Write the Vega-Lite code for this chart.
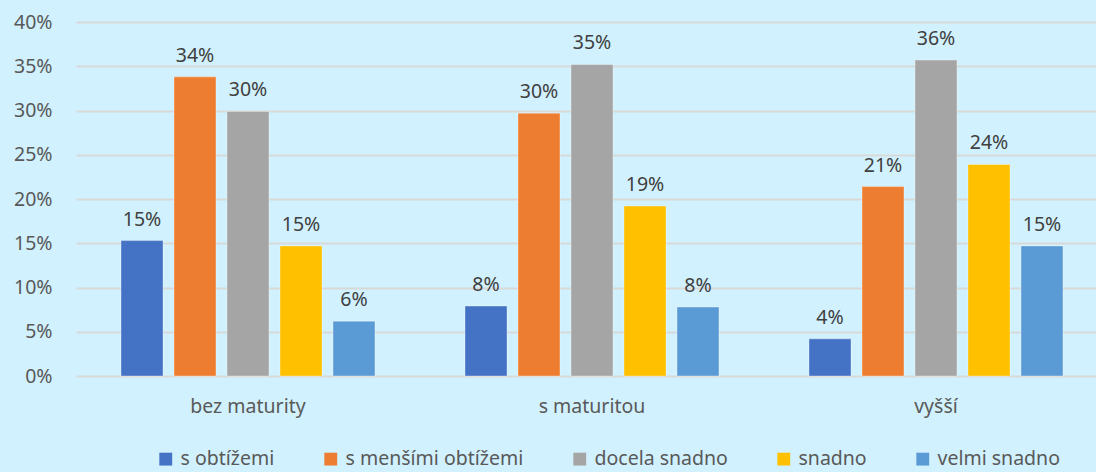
{
  "$schema": "https://vega.github.io/schema/vega-lite/v6.json",
  "width": 1020,
  "height": 354,
  "padding": {"left": 76, "top": 22, "right": 0, "bottom": 96},
  "autosize": {"type": "none"},
  "background": "#D1F1FE",
  "config": {
    "view": {"stroke": null},
    "font": "Noto Sans",
    "axis": {"labelFont": "Noto Sans", "labelFontSize": 19.5, "labelColor": "#595959"},
    "legend": {"labelFont": "Noto Sans", "labelFontSize": 19.5, "labelColor": "#595959", "labelLimit": 400}
  },
  "data": {
    "values": [
      {"skupina": "bez maturity", "hodnoceni": "s obtížemi", "podil": 0.153},
      {"skupina": "bez maturity", "hodnoceni": "s menšími obtížemi", "podil": 0.338},
      {"skupina": "bez maturity", "hodnoceni": "docela snadno", "podil": 0.299},
      {"skupina": "bez maturity", "hodnoceni": "snadno", "podil": 0.147},
      {"skupina": "bez maturity", "hodnoceni": "velmi snadno", "podil": 0.062},
      {"skupina": "s maturitou", "hodnoceni": "s obtížemi", "podil": 0.079},
      {"skupina": "s maturitou", "hodnoceni": "s menšími obtížemi", "podil": 0.297},
      {"skupina": "s maturitou", "hodnoceni": "docela snadno", "podil": 0.352},
      {"skupina": "s maturitou", "hodnoceni": "snadno", "podil": 0.192},
      {"skupina": "s maturitou", "hodnoceni": "velmi snadno", "podil": 0.078},
      {"skupina": "vyšší", "hodnoceni": "s obtížemi", "podil": 0.042},
      {"skupina": "vyšší", "hodnoceni": "s menšími obtížemi", "podil": 0.214},
      {"skupina": "vyšší", "hodnoceni": "docela snadno", "podil": 0.357},
      {"skupina": "vyšší", "hodnoceni": "snadno", "podil": 0.239},
      {"skupina": "vyšší", "hodnoceni": "velmi snadno", "podil": 0.147}
    ]
  },
  "encoding": {
    "x": {
      "field": "skupina", "type": "nominal",
      "sort": ["bez maturity", "s maturitou", "vyšší"],
      "scale": {"range": [0, 1032], "paddingInner": 0, "paddingOuter": 0},
      "axis": {"title": null, "labelAngle": 0, "domain": false, "ticks": false, "labelPadding": 21}
    },
    "xOffset": {
      "field": "hodnoceni", "type": "nominal",
      "sort": ["s obtížemi", "s menšími obtížemi", "docela snadno", "snadno", "velmi snadno"],
      "scale": {"paddingInner": 0.2075, "paddingOuter": 0.849}
    },
    "y": {
      "field": "podil", "type": "quantitative",
      "scale": {"domain": [0, 0.4]},
      "axis": {"title": null, "format": ".0%", "values": [0, 0.05, 0.1, 0.15, 0.2, 0.25, 0.3, 0.35, 0.4], "domain": false, "ticks": false, "labelPadding": 24, "gridColor": "#D9D9D9", "gridWidth": 2}
    }
  },
  "layer": [
    {
      "mark": {"type": "bar", "stroke": "#FFFFFF", "strokeOpacity": 0.35, "strokeWidth": 1},
      "encoding": {
        "color": {
          "field": "hodnoceni", "type": "nominal",
          "scale": {
            "domain": ["s obtížemi", "s menšími obtížemi", "docela snadno", "snadno", "velmi snadno"],
            "range": ["#4472C4", "#ED7D31", "#A5A5A5", "#FFC000", "#5B9BD5"]
          },
          "legend": {
            "title": null, "orient": "none", "direction": "horizontal",
            "legendX": 80, "legendY": 427,
            "symbolType": "square", "symbolSize": 165, "symbolStrokeWidth": 0, "symbolOpacity": 1,
            "columnPadding": 46, "labelOffset": 5
          }
        }
      }
    },
    {
      "mark": {"type": "text", "baseline": "bottom", "dy": -11, "fontSize": 19.5, "color": "#404040", "font": "Noto Sans"},
      "encoding": {
        "text": {"field": "podil", "type": "quantitative", "format": ".0%"}
      }
    }
  ]
}
